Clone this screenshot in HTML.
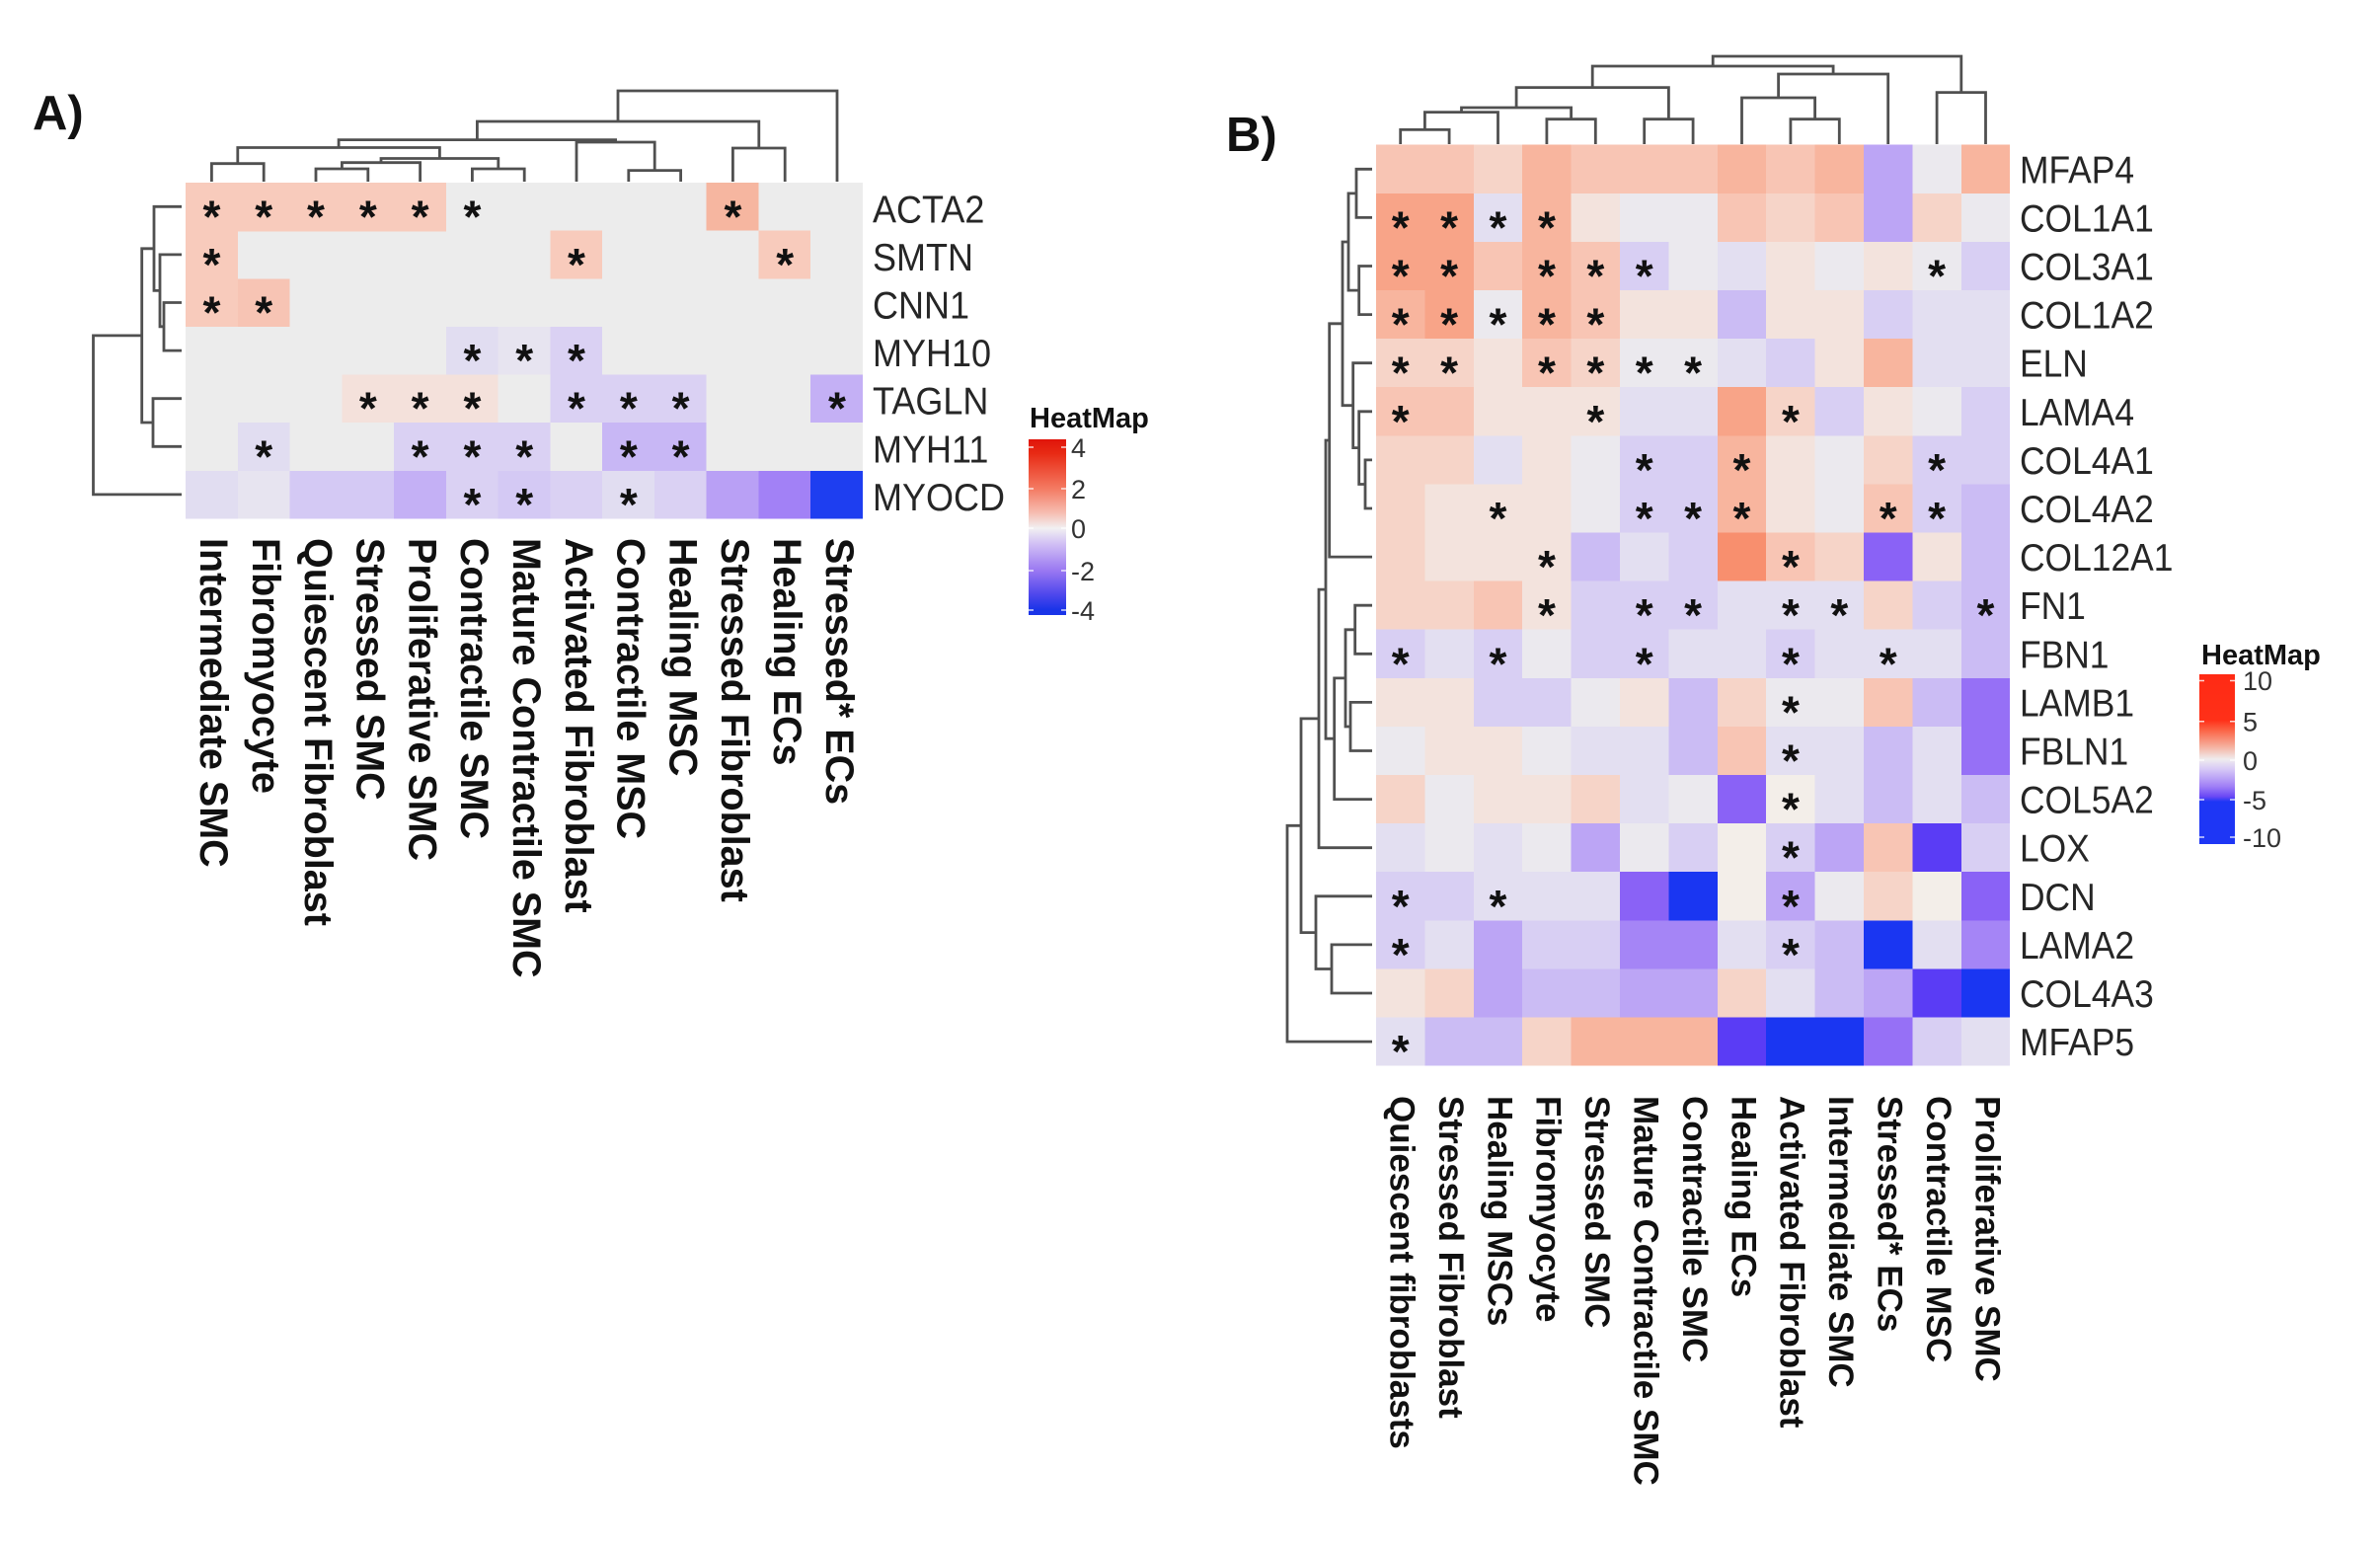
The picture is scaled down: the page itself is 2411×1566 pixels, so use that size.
<!DOCTYPE html>
<html><head><meta charset="utf-8"><style>
html,body{margin:0;padding:0;background:#fff}
svg{display:block}
.g{fill:#ebe9ee}.w{fill:#f3eee9}
.r1{fill:#f3e3dd}.r2{fill:#f6d4c8}.r3{fill:#f8c5b4}.r4{fill:#f8b59e}.r5{fill:#f8a488}.r6{fill:#f88f6e}
.b1{fill:#e3dff1}.b2{fill:#d8cff3}.b3{fill:#cbbcf4}.b4{fill:#bca5f5}.b5{fill:#a585f6}.b5x{fill:#9670f6}.b6{fill:#8a62f6}.b7{fill:#5a3cf5}.b8{fill:#1a36f2}
.ag{fill:#ececec}.as{fill:#f8cbbc}.aS{fill:#f6b6a0}.as2{fill:#f7c4b4}.ap1{fill:#f4e1db}
.al0{fill:#e7e4f0}.al1{fill:#e1ddf1}.al2{fill:#dad1f3}.al3{fill:#d4c9f4}
.av{fill:#c4b0f5}.av2{fill:#c8b7f5}.av3{fill:#b9a0f5}.av4{fill:#a281f6}.aB{fill:#1e3ef0}
.den{fill:none;stroke:#505050;stroke-width:2.8}
.ast{font-family:"Liberation Sans",sans-serif;font-weight:bold;font-size:46px;fill:#111;text-anchor:middle}
.gene{font-family:"Liberation Sans",sans-serif;font-size:38.5px;fill:#262626}
.colA{font-family:"Liberation Sans",sans-serif;font-weight:bold;font-size:39.5px;fill:#111}
.colB{font-family:"Liberation Sans",sans-serif;font-weight:bold;font-size:35px;fill:#111}
.lt{font-family:"Liberation Sans",sans-serif;font-weight:bold;font-size:29px;fill:#111}
.ll{font-family:"Liberation Sans",sans-serif;font-size:27px;fill:#333}
.pl{font-family:"Liberation Sans",sans-serif;font-weight:bold;font-size:49px;fill:#111}
</style></head><body>
<svg width="2411" height="1566" viewBox="0 0 2411 1566" xmlns="http://www.w3.org/2000/svg">
<defs>
<linearGradient id="gA" x1="0" y1="0" x2="0" y2="1">
<stop offset="0" stop-color="#e0140a"/><stop offset="0.08" stop-color="#e82a14"/><stop offset="0.28" stop-color="#f47a62"/><stop offset="0.42" stop-color="#f6beb2"/><stop offset="0.506" stop-color="#f2f0f2"/><stop offset="0.6" stop-color="#cfbdf4"/><stop offset="0.747" stop-color="#9a78f2"/><stop offset="0.88" stop-color="#5048ec"/><stop offset="0.97" stop-color="#1a34e8"/><stop offset="1" stop-color="#1a34e8"/>
</linearGradient>
<linearGradient id="gB" x1="0" y1="0" x2="0" y2="1">
<stop offset="0" stop-color="#ff2a14"/><stop offset="0.27" stop-color="#ff3018"/><stop offset="0.33" stop-color="#fb6446"/><stop offset="0.42" stop-color="#f6ab98"/><stop offset="0.5" stop-color="#f0ecee"/><stop offset="0.56" stop-color="#d6c8f6"/><stop offset="0.66" stop-color="#a080f6"/><stop offset="0.72" stop-color="#6a48f5"/><stop offset="0.75" stop-color="#1e36f5"/><stop offset="1" stop-color="#1e36f5"/>
</linearGradient>
</defs>
<rect width="2411" height="1566" fill="#fff"/>

<!-- Panel labels -->
<text class="pl" x="33" y="131">A)</text>
<text class="pl" x="1242" y="153">B)</text>

<!-- ============ PANEL A HEATMAP ============ -->
<g transform="translate(188,185) scale(52.77,48.64)" shape-rendering="crispEdges">
<rect x="0" y="0" width="13" height="7" class="ag"/>
<rect x="0" y="0" width="1.02" height="1.02" class="as"/><rect x="1" y="0" width="1.02" height="1.02" class="as"/><rect x="2" y="0" width="1.02" height="1.02" class="as"/><rect x="3" y="0" width="1.02" height="1.02" class="as"/><rect x="4" y="0" width="1" height="1.02" class="as"/><rect x="10" y="0" width="1" height="1" class="aS"/>
<rect x="0" y="1" width="1" height="1.02" class="as"/><rect x="7" y="1" width="1" height="1" class="as"/><rect x="11" y="1" width="1" height="1" class="as"/>
<rect x="0" y="2" width="1.02" height="1" class="as"/><rect x="1" y="2" width="1" height="1" class="as2"/>
<rect x="5" y="3" width="1.02" height="1" class="al1"/><rect x="6" y="3" width="1.02" height="1" class="al0"/><rect x="7" y="3" width="1" height="1.02" class="al2"/>
<rect x="3" y="4" width="1.02" height="1" class="ap1"/><rect x="4" y="4" width="1.02" height="1" class="ap1"/><rect x="5" y="4" width="1" height="1" class="ap1"/><rect x="7" y="4" width="1.02" height="1" class="al2"/><rect x="8" y="4" width="1.02" height="1.02" class="al2"/><rect x="9" y="4" width="1" height="1.02" class="al2"/><rect x="12" y="4" width="1" height="1" class="av"/>
<rect x="1" y="5" width="1" height="1" class="al1"/><rect x="4" y="5" width="1.02" height="1.02" class="al2"/><rect x="5" y="5" width="1.02" height="1.02" class="al2"/><rect x="6" y="5" width="1" height="1.02" class="al2"/><rect x="8" y="5" width="1.02" height="1.02" class="av2"/><rect x="9" y="5" width="1" height="1.02" class="av2"/>
<rect x="0" y="6" width="1.02" height="1" class="al1"/><rect x="1" y="6" width="1.02" height="1" class="al0"/><rect x="2" y="6" width="1.02" height="1" class="al3"/><rect x="3" y="6" width="1.02" height="1" class="al3"/><rect x="4" y="6" width="1.02" height="1" class="av"/><rect x="5" y="6" width="1.02" height="1" class="al2"/><rect x="6" y="6" width="1.02" height="1" class="al3"/><rect x="7" y="6" width="1.02" height="1" class="al2"/><rect x="8" y="6" width="1.02" height="1" class="al1"/><rect x="9" y="6" width="1.02" height="1" class="al2"/><rect x="10" y="6" width="1.02" height="1" class="av3"/><rect x="11" y="6" width="1.02" height="1" class="av4"/><rect x="12" y="6" width="1" height="1" class="aB"/>
</g>

<!-- Panel A asterisks -->
<text class="ast" x="214.4 267.2 320 372.8 425.6 478.4 742.4" y="235.3">*******</text>
<text class="ast" x="214.4 584 795.2" y="283.9">***</text>
<text class="ast" x="214.4 267.2" y="332.5">**</text>
<text class="ast" x="478.4 531.2 584" y="381.1">***</text>
<text class="ast" x="372.8 425.6 478.4 584 636.8 689.6 848" y="429.7">*******</text>
<text class="ast" x="267.2 425.6 478.4 531.2 636.8 689.6" y="478.3">******</text>
<text class="ast" x="478.4 531.2 636.8" y="526.9">***</text>

<!-- Panel A dendrograms -->
<path class="den" d="M214.4,184V165.7H267.2V184 M320,184V171H372.8V184 M346.4,171V164.7H425.6V184 M478.4,184V171H531.2V184 M386,164.7V160.5H504.8V171 M240.8,165.7V149.5H445.4V160.5 M636.8,184V172.6H689.6V184 M584,184V144H663.2V172.6 M343.1,149.5V141.6H623.6V144 M742.4,184V150H795.2V184 M483.4,141.6V123H768.8V150 M626,123V92H848V184"/>
<path class="den" d="M184,306.5H166V355.1H184 M184,257.9H162V330.8H166 M184,209.3H156V294.4H162 M184,403.7H155V452.3H184 M156,251.8H143.7V428H155 M143.7,339.9H94.5V500.9H184"/>

<!-- Panel A row labels -->
<g transform="scale(0.935,1)" class="gene">
<text x="945.5" y="225.3">ACTA2</text>
<text x="945.5" y="273.9">SMTN</text>
<text x="945.5" y="322.5">CNN1</text>
<text x="945.5" y="371.1">MYH10</text>
<text x="945.5" y="419.7">TAGLN</text>
<text x="945.5" y="468.3">MYH11</text>
<text x="945.5" y="516.9">MYOCD</text>
</g>

<!-- Panel A column labels -->
<g class="colA">
<text transform="translate(203.2,545) rotate(90)">Intermediate SMC</text>
<text transform="translate(256,545) rotate(90)">Fibromyocyte</text>
<text transform="translate(308.8,545) rotate(90)">Quiescent Fibroblast</text>
<text transform="translate(361.6,545) rotate(90)">Stressed SMC</text>
<text transform="translate(414.4,545) rotate(90)">Proliferative SMC</text>
<text transform="translate(467.2,545) rotate(90)">Contractile SMC</text>
<text transform="translate(520,545) rotate(90)">Mature Contractile SMC</text>
<text transform="translate(572.8,545) rotate(90)">Activated Fibroblast</text>
<text transform="translate(625.6,545) rotate(90)">Contractile MSC</text>
<text transform="translate(678.4,545) rotate(90)">Healing MSC</text>
<text transform="translate(731.2,545) rotate(90)">Stressed Fibroblast</text>
<text transform="translate(784,545) rotate(90)">Healing ECs</text>
<text transform="translate(836.8,545) rotate(90)">Stressed* ECs</text>
</g>

<!-- Panel A legend -->
<text class="lt" x="1043" y="433">HeatMap</text>
<rect x="1042" y="445" width="38" height="178" fill="url(#gA)"/>
<g stroke="#fff" stroke-width="1.5" opacity="0.8">
<path d="M1042,453h5M1075,453h5M1042,495h5M1075,495h5M1042,535h5M1075,535h5M1042,578h5M1075,578h5M1042,618h5M1075,618h5"/>
</g>
<g class="ll">
<text x="1085" y="463">4</text>
<text x="1085" y="505">2</text>
<text x="1085" y="545">0</text>
<text x="1085" y="588">-2</text>
<text x="1085" y="628">-4</text>
</g>

<!-- ============ PANEL B HEATMAP ============ -->
<g transform="translate(1394,146.7) scale(49.4,49.1)" shape-rendering="crispEdges">
<g transform="translate(0,0)"><rect x="0" width="1.02" height="1.02" class="r3"/><rect x="1" width="1.02" height="1.02" class="r3"/><rect x="2" width="1.02" height="1.02" class="r2"/><rect x="3" width="1.02" height="1.02" class="r4"/><rect x="4" width="1.02" height="1.02" class="r3"/><rect x="5" width="1.02" height="1.02" class="r3"/><rect x="6" width="1.02" height="1.02" class="r3"/><rect x="7" width="1.02" height="1.02" class="r4"/><rect x="8" width="1.02" height="1.02" class="r3"/><rect x="9" width="1.02" height="1.02" class="r4"/><rect x="10" width="1.02" height="1.02" class="b4"/><rect x="11" width="1.02" height="1.02" class="g"/><rect x="12" width="1" height="1.02" class="r4"/></g>
<g transform="translate(0,1)"><rect x="0" width="1.02" height="1.02" class="r5"/><rect x="1" width="1.02" height="1.02" class="r5"/><rect x="2" width="1.02" height="1.02" class="b1"/><rect x="3" width="1.02" height="1.02" class="r4"/><rect x="4" width="1.02" height="1.02" class="r1"/><rect x="5" width="1.02" height="1.02" class="g"/><rect x="6" width="1.02" height="1.02" class="g"/><rect x="7" width="1.02" height="1.02" class="r3"/><rect x="8" width="1.02" height="1.02" class="r2"/><rect x="9" width="1.02" height="1.02" class="r3"/><rect x="10" width="1.02" height="1.02" class="b4"/><rect x="11" width="1.02" height="1.02" class="r2"/><rect x="12" width="1" height="1.02" class="g"/></g>
<g transform="translate(0,2)"><rect x="0" width="1.02" height="1.02" class="r5"/><rect x="1" width="1.02" height="1.02" class="r5"/><rect x="2" width="1.02" height="1.02" class="r3"/><rect x="3" width="1.02" height="1.02" class="r4"/><rect x="4" width="1.02" height="1.02" class="r3"/><rect x="5" width="1.02" height="1.02" class="b2"/><rect x="6" width="1.02" height="1.02" class="g"/><rect x="7" width="1.02" height="1.02" class="b1"/><rect x="8" width="1.02" height="1.02" class="r1"/><rect x="9" width="1.02" height="1.02" class="g"/><rect x="10" width="1.02" height="1.02" class="r1"/><rect x="11" width="1.02" height="1.02" class="g"/><rect x="12" width="1" height="1.02" class="b2"/></g>
<g transform="translate(0,3)"><rect x="0" width="1.02" height="1.02" class="r4"/><rect x="1" width="1.02" height="1.02" class="r5"/><rect x="2" width="1.02" height="1.02" class="g"/><rect x="3" width="1.02" height="1.02" class="r4"/><rect x="4" width="1.02" height="1.02" class="r3"/><rect x="5" width="1.02" height="1.02" class="r1"/><rect x="6" width="1.02" height="1.02" class="r1"/><rect x="7" width="1.02" height="1.02" class="b3"/><rect x="8" width="1.02" height="1.02" class="r1"/><rect x="9" width="1.02" height="1.02" class="r1"/><rect x="10" width="1.02" height="1.02" class="b2"/><rect x="11" width="1.02" height="1.02" class="b1"/><rect x="12" width="1" height="1.02" class="b1"/></g>
<g transform="translate(0,4)"><rect x="0" width="1.02" height="1.02" class="r2"/><rect x="1" width="1.02" height="1.02" class="r2"/><rect x="2" width="1.02" height="1.02" class="r1"/><rect x="3" width="1.02" height="1.02" class="r3"/><rect x="4" width="1.02" height="1.02" class="r2"/><rect x="5" width="1.02" height="1.02" class="g"/><rect x="6" width="1.02" height="1.02" class="g"/><rect x="7" width="1.02" height="1.02" class="b1"/><rect x="8" width="1.02" height="1.02" class="b2"/><rect x="9" width="1.02" height="1.02" class="r1"/><rect x="10" width="1.02" height="1.02" class="r4"/><rect x="11" width="1.02" height="1.02" class="b1"/><rect x="12" width="1" height="1.02" class="b1"/></g>
<g transform="translate(0,5)"><rect x="0" width="1.02" height="1.02" class="r3"/><rect x="1" width="1.02" height="1.02" class="r3"/><rect x="2" width="1.02" height="1.02" class="r1"/><rect x="3" width="1.02" height="1.02" class="r1"/><rect x="4" width="1.02" height="1.02" class="r1"/><rect x="5" width="1.02" height="1.02" class="b1"/><rect x="6" width="1.02" height="1.02" class="b1"/><rect x="7" width="1.02" height="1.02" class="r5"/><rect x="8" width="1.02" height="1.02" class="r2"/><rect x="9" width="1.02" height="1.02" class="b2"/><rect x="10" width="1.02" height="1.02" class="r1"/><rect x="11" width="1.02" height="1.02" class="g"/><rect x="12" width="1" height="1.02" class="b2"/></g>
<g transform="translate(0,6)"><rect x="0" width="1.02" height="1.02" class="r2"/><rect x="1" width="1.02" height="1.02" class="r2"/><rect x="2" width="1.02" height="1.02" class="b1"/><rect x="3" width="1.02" height="1.02" class="r1"/><rect x="4" width="1.02" height="1.02" class="g"/><rect x="5" width="1.02" height="1.02" class="b2"/><rect x="6" width="1.02" height="1.02" class="b2"/><rect x="7" width="1.02" height="1.02" class="r4"/><rect x="8" width="1.02" height="1.02" class="r1"/><rect x="9" width="1.02" height="1.02" class="g"/><rect x="10" width="1.02" height="1.02" class="r2"/><rect x="11" width="1.02" height="1.02" class="b2"/><rect x="12" width="1" height="1.02" class="b2"/></g>
<g transform="translate(0,7)"><rect x="0" width="1.02" height="1.02" class="r2"/><rect x="1" width="1.02" height="1.02" class="r1"/><rect x="2" width="1.02" height="1.02" class="r1"/><rect x="3" width="1.02" height="1.02" class="r1"/><rect x="4" width="1.02" height="1.02" class="g"/><rect x="5" width="1.02" height="1.02" class="b2"/><rect x="6" width="1.02" height="1.02" class="b2"/><rect x="7" width="1.02" height="1.02" class="r4"/><rect x="8" width="1.02" height="1.02" class="r1"/><rect x="9" width="1.02" height="1.02" class="g"/><rect x="10" width="1.02" height="1.02" class="r3"/><rect x="11" width="1.02" height="1.02" class="b2"/><rect x="12" width="1" height="1.02" class="b3"/></g>
<g transform="translate(0,8)"><rect x="0" width="1.02" height="1.02" class="r2"/><rect x="1" width="1.02" height="1.02" class="r1"/><rect x="2" width="1.02" height="1.02" class="r1"/><rect x="3" width="1.02" height="1.02" class="r1"/><rect x="4" width="1.02" height="1.02" class="b3"/><rect x="5" width="1.02" height="1.02" class="b1"/><rect x="6" width="1.02" height="1.02" class="b2"/><rect x="7" width="1.02" height="1.02" class="r6"/><rect x="8" width="1.02" height="1.02" class="r3"/><rect x="9" width="1.02" height="1.02" class="r2"/><rect x="10" width="1.02" height="1.02" class="b6"/><rect x="11" width="1.02" height="1.02" class="r1"/><rect x="12" width="1" height="1.02" class="b3"/></g>
<g transform="translate(0,9)"><rect x="0" width="1.02" height="1.02" class="r2"/><rect x="1" width="1.02" height="1.02" class="r2"/><rect x="2" width="1.02" height="1.02" class="r3"/><rect x="3" width="1.02" height="1.02" class="r1"/><rect x="4" width="1.02" height="1.02" class="b2"/><rect x="5" width="1.02" height="1.02" class="b2"/><rect x="6" width="1.02" height="1.02" class="b2"/><rect x="7" width="1.02" height="1.02" class="b1"/><rect x="8" width="1.02" height="1.02" class="b1"/><rect x="9" width="1.02" height="1.02" class="b1"/><rect x="10" width="1.02" height="1.02" class="r2"/><rect x="11" width="1.02" height="1.02" class="b2"/><rect x="12" width="1" height="1.02" class="b3"/></g>
<g transform="translate(0,10)"><rect x="0" width="1.02" height="1.02" class="b2"/><rect x="1" width="1.02" height="1.02" class="b1"/><rect x="2" width="1.02" height="1.02" class="b2"/><rect x="3" width="1.02" height="1.02" class="g"/><rect x="4" width="1.02" height="1.02" class="b2"/><rect x="5" width="1.02" height="1.02" class="b2"/><rect x="6" width="1.02" height="1.02" class="b1"/><rect x="7" width="1.02" height="1.02" class="b1"/><rect x="8" width="1.02" height="1.02" class="b2"/><rect x="9" width="1.02" height="1.02" class="b1"/><rect x="10" width="1.02" height="1.02" class="b1"/><rect x="11" width="1.02" height="1.02" class="b1"/><rect x="12" width="1" height="1.02" class="b3"/></g>
<g transform="translate(0,11)"><rect x="0" width="1.02" height="1.02" class="r1"/><rect x="1" width="1.02" height="1.02" class="r1"/><rect x="2" width="1.02" height="1.02" class="b2"/><rect x="3" width="1.02" height="1.02" class="b2"/><rect x="4" width="1.02" height="1.02" class="g"/><rect x="5" width="1.02" height="1.02" class="r1"/><rect x="6" width="1.02" height="1.02" class="b3"/><rect x="7" width="1.02" height="1.02" class="r2"/><rect x="8" width="1.02" height="1.02" class="g"/><rect x="9" width="1.02" height="1.02" class="g"/><rect x="10" width="1.02" height="1.02" class="r3"/><rect x="11" width="1.02" height="1.02" class="b3"/><rect x="12" width="1" height="1.02" class="b5x"/></g>
<g transform="translate(0,12)"><rect x="0" width="1.02" height="1.02" class="g"/><rect x="1" width="1.02" height="1.02" class="r1"/><rect x="2" width="1.02" height="1.02" class="r1"/><rect x="3" width="1.02" height="1.02" class="g"/><rect x="4" width="1.02" height="1.02" class="b1"/><rect x="5" width="1.02" height="1.02" class="b1"/><rect x="6" width="1.02" height="1.02" class="b3"/><rect x="7" width="1.02" height="1.02" class="r3"/><rect x="8" width="1.02" height="1.02" class="b1"/><rect x="9" width="1.02" height="1.02" class="b1"/><rect x="10" width="1.02" height="1.02" class="b3"/><rect x="11" width="1.02" height="1.02" class="b1"/><rect x="12" width="1" height="1.02" class="b5x"/></g>
<g transform="translate(0,13)"><rect x="0" width="1.02" height="1.02" class="r2"/><rect x="1" width="1.02" height="1.02" class="g"/><rect x="2" width="1.02" height="1.02" class="r1"/><rect x="3" width="1.02" height="1.02" class="r1"/><rect x="4" width="1.02" height="1.02" class="r2"/><rect x="5" width="1.02" height="1.02" class="b1"/><rect x="6" width="1.02" height="1.02" class="g"/><rect x="7" width="1.02" height="1.02" class="b6"/><rect x="8" width="1.02" height="1.02" class="w"/><rect x="9" width="1.02" height="1.02" class="b1"/><rect x="10" width="1.02" height="1.02" class="b3"/><rect x="11" width="1.02" height="1.02" class="b1"/><rect x="12" width="1" height="1.02" class="b3"/></g>
<g transform="translate(0,14)"><rect x="0" width="1.02" height="1.02" class="b1"/><rect x="1" width="1.02" height="1.02" class="g"/><rect x="2" width="1.02" height="1.02" class="b1"/><rect x="3" width="1.02" height="1.02" class="g"/><rect x="4" width="1.02" height="1.02" class="b4"/><rect x="5" width="1.02" height="1.02" class="g"/><rect x="6" width="1.02" height="1.02" class="b2"/><rect x="7" width="1.02" height="1.02" class="w"/><rect x="8" width="1.02" height="1.02" class="b2"/><rect x="9" width="1.02" height="1.02" class="b4"/><rect x="10" width="1.02" height="1.02" class="r3"/><rect x="11" width="1.02" height="1.02" class="b7"/><rect x="12" width="1" height="1.02" class="b2"/></g>
<g transform="translate(0,15)"><rect x="0" width="1.02" height="1.02" class="b2"/><rect x="1" width="1.02" height="1.02" class="b2"/><rect x="2" width="1.02" height="1.02" class="b1"/><rect x="3" width="1.02" height="1.02" class="b1"/><rect x="4" width="1.02" height="1.02" class="b1"/><rect x="5" width="1.02" height="1.02" class="b6"/><rect x="6" width="1.02" height="1.02" class="b8"/><rect x="7" width="1.02" height="1.02" class="w"/><rect x="8" width="1.02" height="1.02" class="b4"/><rect x="9" width="1.02" height="1.02" class="g"/><rect x="10" width="1.02" height="1.02" class="r2"/><rect x="11" width="1.02" height="1.02" class="w"/><rect x="12" width="1" height="1.02" class="b6"/></g>
<g transform="translate(0,16)"><rect x="0" width="1.02" height="1.02" class="b2"/><rect x="1" width="1.02" height="1.02" class="b1"/><rect x="2" width="1.02" height="1.02" class="b4"/><rect x="3" width="1.02" height="1.02" class="b2"/><rect x="4" width="1.02" height="1.02" class="b2"/><rect x="5" width="1.02" height="1.02" class="b5"/><rect x="6" width="1.02" height="1.02" class="b5"/><rect x="7" width="1.02" height="1.02" class="b1"/><rect x="8" width="1.02" height="1.02" class="b2"/><rect x="9" width="1.02" height="1.02" class="b3"/><rect x="10" width="1.02" height="1.02" class="b8"/><rect x="11" width="1.02" height="1.02" class="b1"/><rect x="12" width="1" height="1.02" class="b5"/></g>
<g transform="translate(0,17)"><rect x="0" width="1.02" height="1.02" class="r1"/><rect x="1" width="1.02" height="1.02" class="r2"/><rect x="2" width="1.02" height="1.02" class="b4"/><rect x="3" width="1.02" height="1.02" class="b3"/><rect x="4" width="1.02" height="1.02" class="b3"/><rect x="5" width="1.02" height="1.02" class="b4"/><rect x="6" width="1.02" height="1.02" class="b4"/><rect x="7" width="1.02" height="1.02" class="r2"/><rect x="8" width="1.02" height="1.02" class="b1"/><rect x="9" width="1.02" height="1.02" class="b3"/><rect x="10" width="1.02" height="1.02" class="b4"/><rect x="11" width="1.02" height="1.02" class="b7"/><rect x="12" width="1" height="1.02" class="b8"/></g>
<g transform="translate(0,18)"><rect x="0" width="1.02" height="1" class="b1"/><rect x="1" width="1.02" height="1" class="b3"/><rect x="2" width="1.02" height="1" class="b3"/><rect x="3" width="1.02" height="1" class="r2"/><rect x="4" width="1.02" height="1" class="r4"/><rect x="5" width="1.02" height="1" class="r4"/><rect x="6" width="1.02" height="1" class="r4"/><rect x="7" width="1.02" height="1" class="b7"/><rect x="8" width="1.02" height="1" class="b8"/><rect x="9" width="1.02" height="1" class="b8"/><rect x="10" width="1.02" height="1" class="b5x"/><rect x="11" width="1.02" height="1" class="b2"/><rect x="12" width="1" height="1" class="b1"/></g>
</g>

<!-- Panel B asterisks -->
<text class="ast" x="1418.7 1468.1 1517.5 1566.9" y="246.4">****</text>
<text class="ast" x="1418.7 1468.1 1566.9 1616.3 1665.7 1962.1" y="295.5">******</text>
<text class="ast" x="1418.7 1468.1 1517.5 1566.9 1616.3" y="344.6">*****</text>
<text class="ast" x="1418.7 1468.1 1566.9 1616.3 1665.7 1715.1" y="393.7">******</text>
<text class="ast" x="1418.7 1616.3 1813.9" y="442.8">***</text>
<text class="ast" x="1665.7 1764.5 1962.1" y="491.9">***</text>
<text class="ast" x="1517.5 1665.7 1715.1 1764.5 1912.7 1962.1" y="541">******</text>
<text class="ast" x="1566.9 1813.9" y="590.1">**</text>
<text class="ast" x="1566.9 1665.7 1715.1 1813.9 1863.3 2011.5" y="639.2">******</text>
<text class="ast" x="1418.7 1517.5 1665.7 1813.9 1912.7" y="688.3">*****</text>
<text class="ast" x="1813.9" y="737.4">*</text>
<text class="ast" x="1813.9" y="786.5">*</text>
<text class="ast" x="1813.9" y="835.6">*</text>
<text class="ast" x="1813.9" y="884.7">*</text>
<text class="ast" x="1418.7 1517.5 1813.9" y="933.8">***</text>
<text class="ast" x="1418.7 1813.9" y="982.9">**</text>
<text class="ast" x="1418.7" y="1081.1">*</text>

<!-- Panel B dendrograms -->
<path class="den" d="M1418.7,146V131.4H1468.1V146 M1443.4,131.4V113.6H1517.5V146 M1566.9,146V120.7H1616.3V146 M1480.5,113.6V109H1591.6V120.7 M1665.7,146V120.7H1715.1V146 M1536.1,109V88.6H1690.4V120.7 M1813.9,146V120.7H1863.3V146 M1764.5,146V99H1838.6V120.7 M1801.6,99V75H1912.7V146 M1613.2,88.6V67H1857.1V75 M1962.1,146V93.6H2011.5V146 M1735.2,67V57H1986.8V93.6"/>
<path class="den" d="M1390,171.3H1374V220.4H1390 M1390,269.5H1376.7V318.6H1390 M1374,195.9H1366V294.1H1376.7 M1390,465.9H1383V515H1390 M1390,416.8H1376.7V490.5H1383 M1390,367.7H1370.7V453.6H1376.7 M1366,245H1360V410.7H1370.7 M1360,327.8H1346.7V564.1H1390 M1390,613.2H1372.7V662.3H1390 M1390,711.4H1368V760.5H1390 M1372.7,637.8H1363V736H1368 M1363,686.9H1351.7V809.6H1390 M1346.7,446H1343V748.2H1351.7 M1343,597.1H1336V858.7H1390 M1390,956.9H1349V1006H1390 M1390,907.8H1333V981.5H1349 M1336,727.9H1318V944.6H1333 M1318,836.3H1304V1055.1H1390"/>

<!-- Panel B row labels -->
<g transform="scale(0.92,1)" class="gene">
<text x="2223.9" y="185.3">MFAP4</text>
<text x="2223.9" y="234.4">COL1A1</text>
<text x="2223.9" y="283.5">COL3A1</text>
<text x="2223.9" y="332.6">COL1A2</text>
<text x="2223.9" y="381.7">ELN</text>
<text x="2223.9" y="430.8">LAMA4</text>
<text x="2223.9" y="479.9">COL4A1</text>
<text x="2223.9" y="529">COL4A2</text>
<text x="2223.9" y="578.1">COL12A1</text>
<text x="2223.9" y="627.2">FN1</text>
<text x="2223.9" y="676.3">FBN1</text>
<text x="2223.9" y="725.4">LAMB1</text>
<text x="2223.9" y="774.5">FBLN1</text>
<text x="2223.9" y="823.6">COL5A2</text>
<text x="2223.9" y="872.7">LOX</text>
<text x="2223.9" y="921.8">DCN</text>
<text x="2223.9" y="970.9">LAMA2</text>
<text x="2223.9" y="1020">COL4A3</text>
<text x="2223.9" y="1069.1">MFAP5</text>
</g>

<!-- Panel B column labels -->
<g class="colB">
<text transform="translate(1408.5,1110) rotate(90)">Quiescent fibroblasts</text>
<text transform="translate(1457.9,1110) rotate(90)">Stressed Fibroblast</text>
<text transform="translate(1507.3,1110) rotate(90)">Healing MSCs</text>
<text transform="translate(1556.7,1110) rotate(90)">Fibromyocyte</text>
<text transform="translate(1606.1,1110) rotate(90)">Stressed SMC</text>
<text transform="translate(1655.5,1110) rotate(90)">Mature Contractile SMC</text>
<text transform="translate(1704.9,1110) rotate(90)">Contractile SMC</text>
<text transform="translate(1754.3,1110) rotate(90)">Healing ECs</text>
<text transform="translate(1803.7,1110) rotate(90)">Activated Fibroblast</text>
<text transform="translate(1853.1,1110) rotate(90)">Intermediate SMC</text>
<text transform="translate(1902.5,1110) rotate(90)">Stressed* ECs</text>
<text transform="translate(1951.9,1110) rotate(90)">Contractile MSC</text>
<text transform="translate(2001.3,1110) rotate(90)">Proliferative SMC</text>
</g>

<!-- Panel B legend -->
<text class="lt" x="2230" y="673">HeatMap</text>
<rect x="2228" y="683" width="36" height="172" fill="url(#gB)"/>
<g stroke="#fff" stroke-width="1.5" opacity="0.8">
<path d="M2228,689.5h5M2259,689.5h5M2228,730.7h5M2259,730.7h5M2228,770h5M2259,770h5M2228,810h5M2259,810h5M2228,848h5M2259,848h5"/>
</g>
<g class="ll">
<text x="2272" y="699">10</text>
<text x="2272" y="740.5">5</text>
<text x="2272" y="780">0</text>
<text x="2272" y="820">-5</text>
<text x="2272" y="858">-10</text>
</g>
</svg>
</body></html>
